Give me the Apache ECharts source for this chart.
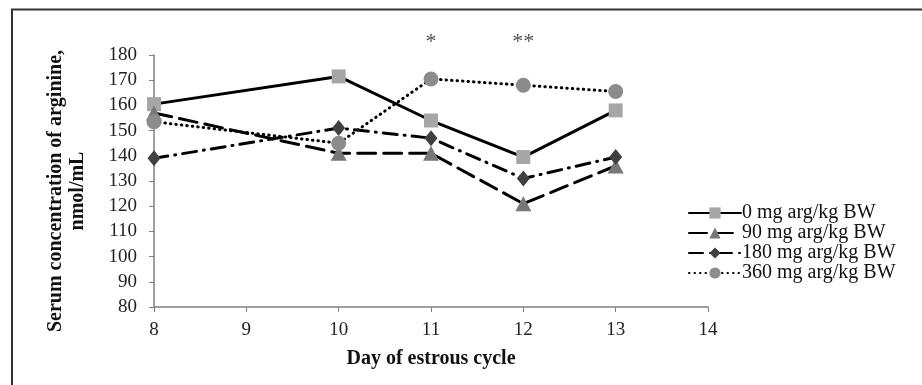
<!DOCTYPE html>
<html>
<head>
<meta charset="utf-8">
<script src="https://cdn.jsdelivr.net/npm/echarts@6/dist/echarts.min.js"></script>
<style>
  html, body { margin: 0; padding: 0; background: #fff; }
  #chart { width: 922px; height: 385px; }
</style>
</head>
<body>
<div id="chart"></div>
<script>
// --- data ---
const days = [8, 10, 11, 12, 13];
const dose0 = [160.5, 171.5, 154, 139.5, 158];
const dose90 = [157, 141, 141, 121, 136];
const dose180 = [139, 151, 147, 131, 139.5];
const dose360 = [153.5, 145, 170.5, 168, 165.5];
const seriesNames = ['0 mg arg/kg BW', '90 mg arg/kg BW', '180 mg arg/kg BW', '360 mg arg/kg BW'];
// significance marks above the plot
const starDays = [11, 12];
const starLabels = ['*', '**'];
const starLevel = 185;

const FONT = 'Liberation Serif';

const pairs = (vals) => days.map((d, i) => [d, vals[i]]);

const chart = echarts.init(document.getElementById('chart'), null, { renderer: 'canvas' });

const lineSeries = (name, vals, symbol, size, fill, lineType) => ({
  name: name,
  type: 'line',
  data: pairs(vals),
  symbol: symbol,
  symbolSize: size,
  showSymbol: true,
  itemStyle: { color: fill },
  lineStyle: { color: '#000', width: 3, type: lineType, cap: 'round' },
  z: 3
});

const option = {
  animation: false,
  backgroundColor: '#fff',
  grid: { left: 154, right: 214, top: 55, bottom: 78 },
  legend: {
    data: seriesNames,
    orient: 'vertical',
    left: 683,
    top: 198,
    itemWidth: 52,
    itemHeight: 14,
    itemGap: 0,
    textStyle: { fontFamily: FONT, fontSize: 20, color: '#111', padding: [0, 0, 0, -4] }
  },
  xAxis: {
    type: 'value',
    min: 8,
    max: 14,
    interval: 1,
    name: 'Day of estrous cycle',
    nameLocation: 'middle',
    nameGap: 42,
    nameTextStyle: { fontFamily: FONT, fontSize: 20, fontWeight: 'bold', color: '#111' },
    axisLine: { lineStyle: { color: '#808080', width: 1.5 } },
    axisTick: { show: true, length: 5, lineStyle: { color: '#808080' } },
    axisLabel: { fontFamily: FONT, fontSize: 19, color: '#222', margin: 14 },
    splitLine: { show: false }
  },
  yAxis: {
    type: 'value',
    min: 80,
    max: 180,
    interval: 10,
    axisLine: { show: true, lineStyle: { color: '#808080', width: 1.5 } },
    axisTick: { show: true, length: 5, lineStyle: { color: '#808080' } },
    axisLabel: { fontFamily: FONT, fontSize: 19, color: '#222', margin: 17 },
    splitLine: { show: false }
  },
  graphic: [
    {
      type: 'rect',
      shape: { x: 12, y: 9.5, width: 960, height: 420 },
      style: { fill: 'none', stroke: '#333', lineWidth: 2 },
      silent: true
    },
    {
      type: 'text',
      x: 67,
      y: 191,
      rotation: Math.PI / 2,
      style: {
        text: 'Serum concentration of arginine,\nnmol/mL',
        font: 'bold 20px "Liberation Serif"',
        fill: '#111',
        align: 'center',
        verticalAlign: 'middle',
        lineHeight: 22
      }
    }
  ],
  series: [
    lineSeries(seriesNames[0], dose0, 'rect', 14, '#a6a6a6', 'solid'),
    lineSeries(seriesNames[1], dose90, 'triangle', [16, 15], '#777777', [18, 8]),
    lineSeries(seriesNames[2], dose180, 'diamond', [13, 16], '#404040', [14, 7, 1, 7]),
    lineSeries(seriesNames[3], dose360, 'circle', 15, '#8c8c8c', [0.5, 5]),
    {
      name: 'stars',
      type: 'scatter',
      data: starDays.map((d, i) => ({ value: [d, starLevel], label: { formatter: starLabels[i] } })),
      symbol: 'circle',
      symbolSize: 2,
      itemStyle: { color: 'rgba(0,0,0,0)' },
      clip: false,
      silent: true,
      label: {
        show: true,
        position: 'inside',
        fontFamily: FONT,
        fontSize: 22,
        color: '#222'
      }
    }
  ]
};

chart.setOption(option);
</script>
</body>
</html>
